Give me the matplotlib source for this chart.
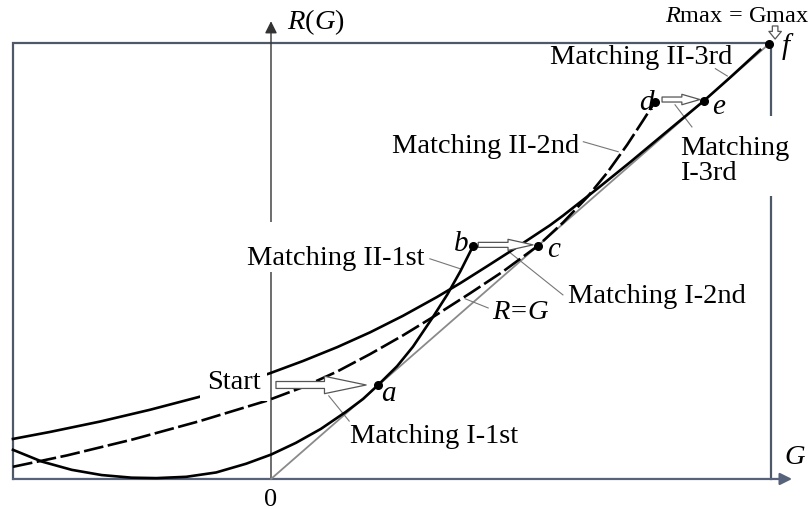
import matplotlib
matplotlib.use("Agg")
import matplotlib.pyplot as plt
from matplotlib.patches import FancyArrowPatch, Rectangle

plt.rcParams['font.family'] = ['Liberation Serif', 'DejaVu Serif']
plt.rcParams['mathtext.fontset'] = 'custom'
plt.rcParams['mathtext.rm'] = 'Liberation Serif'
plt.rcParams['mathtext.it'] = 'Liberation Serif:italic'

# Кривые (G, R), нормировано так, что f = (1, 1)
# нижняя сплошная: старт -> a (касание R=G) -> b
curve1_G = [-0.518, -0.46, -0.40, -0.34, -0.28, -0.23, -0.17, -0.11, -0.05, 0.00,
            0.05, 0.10, 0.15, 0.185, 0.215, 0.253, 0.285, 0.325, 0.354, 0.380, 0.406]
curve1_R = [0.067, 0.040, 0.021, 0.009, 0.003, 0.002, 0.005, 0.015, 0.035, 0.056,
            0.083, 0.115, 0.154, 0.184, 0.216, 0.259, 0.304, 0.372, 0.424, 0.477, 0.536]
# верхняя сплошная: идёт к e и f
curve2_G = [-0.518, -0.444, -0.343, -0.243, -0.143, -0.002, 0.064, 0.133, 0.199,
            0.265, 0.333, 0.380, 0.434, 0.494, 0.560, 0.586, 0.655, 0.721,
            0.787, 0.869, 0.922, 0.982]
curve2_R = [0.092, 0.108, 0.132, 0.159, 0.189, 0.243, 0.271, 0.303, 0.337,
            0.375, 0.418, 0.450, 0.489, 0.533, 0.583, 0.605, 0.667, 0.728,
            0.791, 0.869, 0.923, 0.986]
# штриховая: c -> d
curve3_G = [-0.518, -0.410, -0.277, -0.143, -0.008, 0.064, 0.133, 0.199, 0.265,
            0.325, 0.400, 0.466, 0.536, 0.586, 0.635, 0.675, 0.715, 0.747, 0.771]
curve3_R = [0.028, 0.054, 0.091, 0.133, 0.180, 0.211, 0.247, 0.287, 0.330,
            0.372, 0.427, 0.477, 0.536, 0.589, 0.648, 0.704, 0.768, 0.824, 0.867]

# точки согласования
pt_names = ['a', 'b', 'c', 'd', 'e', 'f']
pt_G = [0.215, 0.406, 0.536, 0.771, 0.869, 1.0]
pt_R = [0.216, 0.536, 0.536, 0.867, 0.869, 1.0]

box_left, box_top, box_right = -0.518, 1.003, 1.004

fig = plt.figure(figsize=(8.09, 5.10), dpi=100)
ax = fig.add_axes([0, 0, 1, 1])
ax.set_xlim(-0.544, 1.080)
ax.set_ylim(-0.069, 1.103)
ax.axis('off')

frame = '#4f5868'
# рамка
ax.plot([box_left, box_left, box_right, box_right], [0, box_top, box_top, 0],
        color=frame, lw=1.6, solid_joinstyle='miter', zorder=1)
# оси
ax.annotate('', xy=(1.046, 0), xytext=(box_left, 0),
            arrowprops=dict(arrowstyle='-|>', color='#56637a', lw=1.6,
                            mutation_scale=18, shrinkA=0, shrinkB=0), zorder=1)
ax.annotate('', xy=(0, 1.052), xytext=(0, 0),
            arrowprops=dict(arrowstyle='-|>', color='#333333', lw=1.0,
                            mutation_scale=18, shrinkA=0, shrinkB=0), zorder=1)
# разрывы линий под подписями
ax.add_patch(Rectangle((-0.012, 0.476), 0.024, 0.115, fc='white', ec='none', zorder=1.5))
ax.add_patch(Rectangle((0.990, 0.651), 0.030, 0.183, fc='white', ec='none', zorder=1.5))

# линия R = G
ax.plot([0, 1], [0, 1], color='#8a8a8a', lw=1.3, zorder=2)

ax.plot(curve1_G, curve1_R, color='black', lw=1.9, zorder=3, solid_joinstyle='round')
ax.plot(curve2_G, curve2_R, color='black', lw=1.9, zorder=3, solid_joinstyle='round')
ax.plot(curve3_G, curve3_R, color='black', lw=1.9, dashes=(7.5, 1.7), zorder=3)

ax.plot(pt_G, pt_R, 'o', color='black', ms=5.5, zorder=6)

# полые стрелки
hollow = [((0.010, 0.216), (0.191, 0.216), 0.5, 1.25, 3.0),
          ((0.416, 0.538), (0.526, 0.538), 0.36, 0.8, 1.8),
          ((0.785, 0.872), (0.861, 0.872), 0.36, 0.75, 1.3),
          ((1.012, 1.041), (1.012, 1.011), 0.4, 0.9, 0.55)]
for p0, p1, tw, hw, hl in hollow:
    ax.add_patch(FancyArrowPatch(p0, p1,
                 arrowstyle=f'simple,tail_width={tw},head_width={hw},head_length={hl}',
                 mutation_scale=10, fc='white', ec='#555555', lw=0.9,
                 shrinkA=0, shrinkB=0, zorder=5))

# выноски
leaders = [((0.157, 0.133), (0.116, 0.191)),
           ((0.436, 0.393), (0.390, 0.414)),
           ((0.319, 0.506), (0.380, 0.483)),
           ((0.586, 0.423), (0.480, 0.520)),
           ((0.627, 0.775), (0.697, 0.752)),
           ((0.811, 0.860), (0.845, 0.809)),
           ((0.892, 0.943), (0.916, 0.926))]
for (x0, y0), (x1, y1) in leaders:
    ax.plot([x0, x1], [y0, y1], color='#777777', lw=0.8, zorder=2)

fs = 20.5
texts = [
    ('Matching II-3rd', 0.560, 0.970, None),
    ('Matching II-2nd', 0.243, 0.766, None),
    ('Matching II-1st', -0.048, 0.510, None),
    ('Matching I-2nd', 0.596, 0.421, None),
    ('Matching I-1st', 0.159, 0.099, None),
    ('Start', -0.129, 0.223, dict(facecolor='white', edgecolor='none', pad=5)),
    ('Matching\nI-3rd', 0.821, 0.733, None),
]
for s, x, y, bb in texts:
    ax.text(x, y, s, fontsize=fs, ha='left', va='center', linespacing=0.95,
            bbox=bb, zorder=4)

lab_dx = {'a': (0.021, -0.018), 'b': (-0.024, 0.007), 'c': (0.032, -0.008),
          'd': (-0.018, 0.0), 'e': (0.030, -0.011), 'f': (0.034, -0.005)}
for n, g, r in zip(pt_names, pt_G, pt_R):
    dx, dy = lab_dx[n]
    ax.text(g + dx, r + dy, n, fontsize=21, style='italic', ha='center', va='center', zorder=6)

ax.text(0.500, 0.386, r'$R\!=\!G$', fontsize=fs, ha='center', va='center')
ax.text(0.090, 1.052, r'$R(G)$', fontsize=fs, ha='center', va='center')
ax.text(0.936, 1.064, r'$R\mathrm{max}\,{=}\,\mathrm{Gmax}$', fontsize=17.5, ha='center', va='center')
ax.text(1.052, 0.052, r'$G$', fontsize=fs, ha='center', va='center')
ax.text(0.0, -0.046, '0', fontsize=19, ha='center', va='center')

fig.savefig('out.png', dpi=100)
